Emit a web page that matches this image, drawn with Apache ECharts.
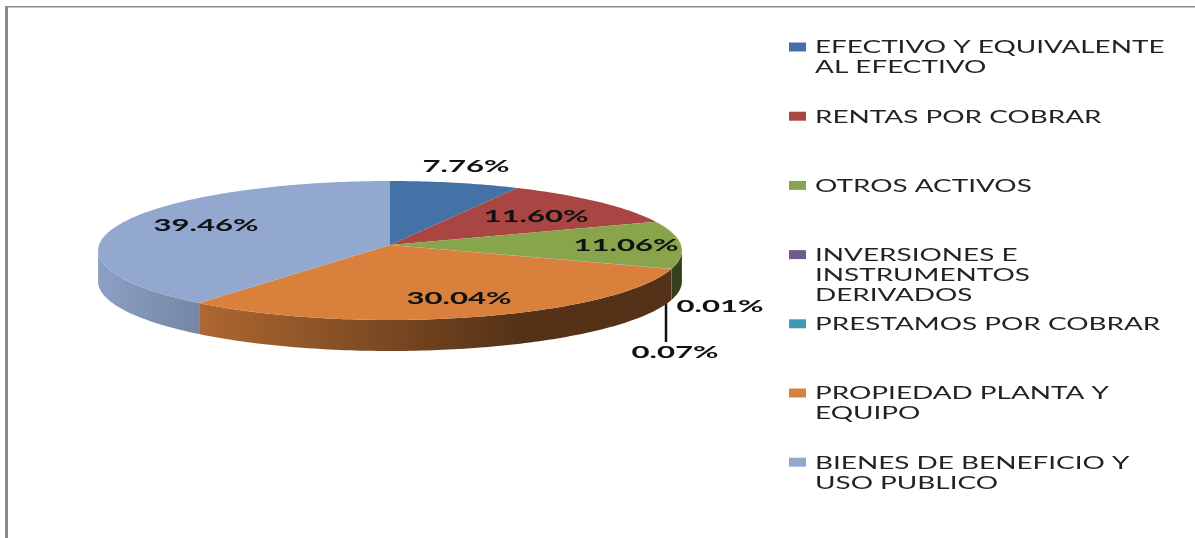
<!DOCTYPE html>
<html>
<head>
<meta charset="utf-8" />
<style>
  html, body { margin: 0; padding: 0; background: #fff; }
  #chart { width: 1195px; height: 538px; }
</style>
<script src="https://cdn.jsdelivr.net/npm/echarts@6/dist/echarts.min.js"></script>
</head>
<body>
<div id="chart"></div>
<script>
const categories = [
  "EFECTIVO Y EQUIVALENTE\nAL EFECTIVO",
  "RENTAS POR COBRAR",
  "OTROS ACTIVOS",
  "INVERSIONES E\nINSTRUMENTOS\nDERIVADOS",
  "PRESTAMOS POR COBRAR",
  "PROPIEDAD PLANTA Y\nEQUIPO",
  "BIENES DE BENEFICIO Y\nUSO PUBLICO",
];
const values = [7.76, 11.6, 11.06, 0.01, 0.07, 30.04, 39.46];
const colors = ["#4471a6", "#a94643", "#89a54c", "#71588f", "#4198af", "#d9813c", "#92a8ce"];

// where each percentage sits (not data, just layout)
const labelCenters = [
  [466, 166],
  [536, 216],
  [626, 245],
  [720, 306],
  [675, 352],
  [459, 298],
  [206, 225],
];
const leaderLine = [666, 298, 666, 342];

// tilted disc: apex, half axes, perspective and rim depth
const CX = 390;
const CY = 245;
const RX = 291;
const RY = 69.06;
const PERSP = 0.0791;
const DEPTH = 31;

// shading of the rim from left to right
const SHADE_STOPS = [
  [0, 0.95],
  [0.175, 0.8],
  [0.51, 0.55],
  [0.72, 0.39],
  [1, 0.39],
];

const total = values.reduce((sum, v) => sum + v, 0);
const startAngles = [];
values.reduce((acc, v, i) => {
  startAngles[i] = (acc / total) * 360;
  return acc + v;
}, 0);

// deg: clockwise from the top of the disc
function rimPoint(deg, drop) {
  const t = (deg * Math.PI) / 180;
  const X = Math.sin(t);
  const Y = -Math.cos(t);
  const d = 1 - PERSP * Y;
  return [CX + (RX * X) / d, CY + (RY * Y) / d + (drop || 0)];
}

function arcPoints(from, to, drop) {
  const pts = [];
  const steps = Math.max(2, Math.ceil(to - from));
  for (let i = 0; i <= steps; i++) {
    pts.push(rimPoint(from + ((to - from) * i) / steps, drop));
  }
  return pts;
}

function shade(hex, f) {
  const n = parseInt(hex.slice(1), 16);
  const c = [(n >> 16) & 255, (n >> 8) & 255, n & 255].map((v) => Math.round(v * f));
  return "rgb(" + c.join(",") + ")";
}

function renderTop(params, api) {
  const i = params.dataIndex;
  const from = startAngles[i];
  const to = from + (api.value(0) / total) * 360;
  return {
    type: "polygon",
    shape: { points: [[CX, CY]].concat(arcPoints(from, to)) },
    style: { fill: colors[i] },
  };
}

function renderWall(params, api) {
  const i = params.dataIndex;
  // only the part of the rim that faces the viewer
  const edge = (Math.acos(-PERSP) * 180) / Math.PI;
  const from = Math.max(startAngles[i], edge);
  const to = Math.min(startAngles[i] + (api.value(0) / total) * 360, 360 - edge);
  if (to <= from) return null;
  const upper = arcPoints(from, to, 0);
  const lower = arcPoints(from, to, DEPTH).reverse();
  const left = rimPoint(360 - edge)[0];
  const right = rimPoint(edge)[0];
  return {
    type: "polygon",
    shape: { points: upper.concat(lower) },
    style: {
      fill: new echarts.graphic.LinearGradient(
        left, 0, right, 0,
        SHADE_STOPS.map((s) => ({ offset: s[0], color: shade(colors[i], s[1]) })),
        true
      ),
    },
  };
}

function renderLabel(params, api) {
  const i = params.dataIndex;
  return {
    type: "text",
    x: labelCenters[i][0],
    y: labelCenters[i][1] + 1,
    scaleX: 1.83,
    style: {
      text: api.value(0).toFixed(2) + "%",
      font: "bold 17px Lato",
      fill: "#111",
      align: "center",
      verticalAlign: "middle",
    },
  };
}

const legendItems = categories.flatMap((name, i) => {
  const y = 47 + i * 69.2;
  return [
    { type: "rect", shape: { x: 789, y: y - 4.5, width: 17, height: 9 }, style: { fill: colors[i] } },
    {
      type: "text",
      x: 815,
      y: y - 9,
      scaleX: 1.64,
      style: { text: name, font: "17px Lato", lineHeight: 20, fill: "#222", verticalAlign: "top" },
    },
  ];
});

const frame = [
  { type: "rect", shape: { x: 5, y: 6, width: 1190, height: 1.5 }, style: { fill: "#8c8c8c" } },
  { type: "rect", shape: { x: 5, y: 6, width: 3, height: 532 }, style: { fill: "#8c8c8c" } },
];

const leader = {
  type: "line",
  shape: { x1: leaderLine[0], y1: leaderLine[1], x2: leaderLine[2], y2: leaderLine[3] },
  style: { stroke: "#111", lineWidth: 2.5 },
};

const chart = echarts.init(document.getElementById("chart"));
chart.setOption({
  animation: false,
  backgroundColor: "#fff",
  graphic: { elements: frame.concat(legendItems, [leader]) },
  series: [
    { type: "custom", coordinateSystem: "none", renderItem: renderWall, data: values.map((v) => [v]), z: 1, silent: true },
    { type: "custom", coordinateSystem: "none", renderItem: renderTop, data: values.map((v) => [v]), z: 2, silent: true },
    { type: "custom", coordinateSystem: "none", renderItem: renderLabel, data: values.map((v) => [v]), z: 3, silent: true },
  ],
});
</script>
</body>
</html>
